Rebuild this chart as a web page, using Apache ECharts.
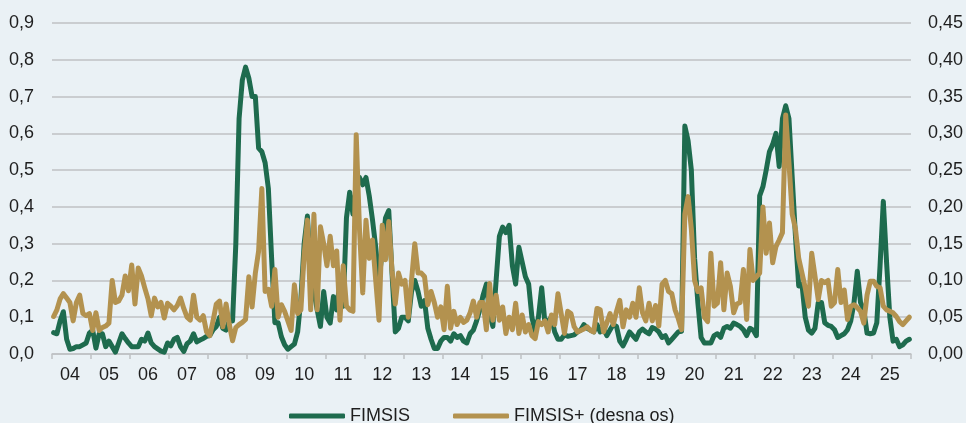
<!DOCTYPE html>
<html>
<head>
<meta charset="utf-8">
<script src="https://cdn.jsdelivr.net/npm/echarts@6/dist/echarts.min.js"></script>
<style>
  html, body { margin: 0; padding: 0; background: #EAF1F5; }
  #chart { width: 966px; height: 423px; }
</style>
</head>
<body>
<div id="chart"></div>
<script>
// Years shown on the x axis (monthly data, Jan 2004 - Dec 2025)
const years = ['04','05','06','07','08','09','10','11','12','13','14','15','16','17','18','19','20','21','22','23','24','25'];
const leftTicks = [0, 0.9, 0.1];    // min, max, interval (FIMSIS)
const rightTicks = [0, 0.45, 0.05]; // min, max, interval (FIMSIS+)

// FIMSIS (left axis), monthly, one row per year
const fimsis = [
  0.058,0.055,0.09,0.115,0.04,0.013,0.015,0.02,0.02,0.025,0.03,0.057,
  0.065,0.016,0.055,0.055,0.02,0.035,0.02,0.005,0.03,0.055,0.042,0.03,
  0.02,0.02,0.02,0.04,0.035,0.057,0.03,0.02,0.014,0.008,0.005,0.03,
  0.022,0.04,0.045,0.02,0.007,0.028,0.035,0.055,0.033,0.038,0.042,0.048,
  0.05,0.066,0.075,0.1,0.07,0.065,0.09,0.09,0.3,0.64,0.745,0.78,
  0.75,0.70,0.70,0.56,0.55,0.52,0.45,0.26,0.085,0.085,0.047,0.025,
  0.013,0.02,0.027,0.06,0.15,0.3,0.375,0.22,0.17,0.12,0.075,0.17,
  0.1,0.084,0.156,0.12,0.2,0.13,0.37,0.44,0.38,0.45,0.48,0.46,
  0.48,0.43,0.365,0.29,0.2,0.28,0.37,0.39,0.22,0.06,0.07,0.1,
  0.1,0.09,0.17,0.2,0.17,0.13,0.145,0.07,0.04,0.015,0.015,0.035,
  0.045,0.045,0.035,0.055,0.045,0.05,0.035,0.03,0.055,0.065,0.09,0.12,
  0.16,0.19,0.11,0.075,0.2,0.32,0.345,0.33,0.35,0.24,0.19,0.29,
  0.25,0.21,0.19,0.1,0.06,0.1,0.18,0.085,0.09,0.1,0.06,0.04,
  0.04,0.052,0.048,0.05,0.052,0.06,0.065,0.08,0.07,0.065,0.06,0.08,
  0.06,0.07,0.05,0.065,0.08,0.075,0.035,0.022,0.04,0.06,0.05,0.04,
  0.06,0.068,0.06,0.055,0.072,0.068,0.06,0.045,0.05,0.03,0.04,0.05,
  0.06,0.062,0.62,0.58,0.5,0.26,0.14,0.045,0.03,0.03,0.03,0.05,
  0.055,0.045,0.07,0.075,0.07,0.084,0.08,0.075,0.066,0.05,0.07,0.065,
  0.05,0.43,0.455,0.5,0.55,0.57,0.6,0.51,0.64,0.675,0.64,0.48,
  0.32,0.185,0.19,0.1,0.065,0.057,0.07,0.14,0.14,0.085,0.078,0.075,
  0.066,0.045,0.05,0.055,0.066,0.09,0.14,0.225,0.14,0.12,0.057,0.055,
  0.057,0.085,0.24,0.415,0.25,0.1,0.035,0.04,0.02,0.025,0.035,0.04
];

// FIMSIS+ (right axis, "desna os"), monthly, one row per year
const fimsisPlus = [
  0.051,0.06,0.075,0.082,0.076,0.07,0.045,0.07,0.08,0.055,0.052,0.055,
  0.032,0.056,0.032,0.036,0.038,0.042,0.1,0.07,0.072,0.08,0.106,0.086,
  0.121,0.068,0.117,0.106,0.09,0.075,0.052,0.076,0.064,0.07,0.049,0.069,
  0.065,0.06,0.066,0.076,0.062,0.05,0.046,0.08,0.05,0.046,0.052,0.03,
  0.025,0.045,0.068,0.072,0.037,0.068,0.04,0.018,0.036,0.04,0.043,0.047,
  0.105,0.064,0.11,0.14,0.225,0.085,0.088,0.065,0.115,0.05,0.067,0.058,
  0.045,0.032,0.094,0.055,0.06,0.135,0.182,0.06,0.19,0.06,0.173,0.15,
  0.12,0.16,0.12,0.14,0.046,0.12,0.065,0.06,0.058,0.298,0.17,0.083,
  0.182,0.13,0.155,0.1,0.046,0.175,0.128,0.18,0.114,0.068,0.11,0.095,
  0.1,0.05,0.1,0.15,0.11,0.11,0.105,0.067,0.085,0.07,0.05,0.064,
  0.033,0.092,0.035,0.058,0.04,0.05,0.043,0.046,0.056,0.072,0.05,0.07,
  0.07,0.033,0.096,0.046,0.08,0.046,0.064,0.028,0.05,0.033,0.069,0.028,
  0.053,0.03,0.04,0.025,0.021,0.044,0.04,0.045,0.03,0.053,0.04,0.082,
  0.055,0.028,0.058,0.055,0.037,0.03,0.032,0.034,0.037,0.032,0.03,0.062,
  0.06,0.03,0.042,0.055,0.04,0.058,0.073,0.037,0.06,0.05,0.069,0.05,
  0.09,0.056,0.045,0.069,0.045,0.066,0.038,0.095,0.1,0.085,0.082,0.06,
  0.048,0.033,0.19,0.214,0.17,0.1,0.085,0.09,0.05,0.044,0.137,0.065,
  0.069,0.124,0.06,0.11,0.092,0.056,0.068,0.07,0.115,0.047,0.142,0.1,
  0.105,0.11,0.2,0.137,0.178,0.124,0.146,0.155,0.165,0.325,0.26,0.19,
  0.17,0.13,0.11,0.09,0.065,0.137,0.106,0.074,0.1,0.097,0.1,0.065,
  0.07,0.115,0.07,0.087,0.047,0.065,0.067,0.063,0.058,0.042,0.08,0.099,
  0.099,0.092,0.09,0.065,0.06,0.058,0.056,0.051,0.044,0.04,0.045,0.05
];

const seriesNames = ['FIMSIS', 'FIMSIS+ (desna os)'];

// monthly categories built from the year list
const categories = [];
years.forEach(y => { for (let m = 1; m <= 12; m++) categories.push(y + '-' + (m < 10 ? '0' + m : m)); });

const FONT = "'Liberation Sans Narrow', 'Arial Narrow', 'Liberation Sans', Arial, sans-serif";
const TXT = '#1e1e1e';
const GRID = '#bfc1c3';

const chart = echarts.init(document.getElementById('chart'), null, { renderer: 'canvas' });
chart.setOption({
  backgroundColor: '#EAF1F5',
  animation: false,
  textStyle: { fontFamily: FONT },
  grid: { left: 52, right: 52, top: 23, bottom: 69, containLabel: false },
  legend: {
    data: seriesNames,
    left: 284, top: 402,
    icon: 'roundRect',
    itemWidth: 56, itemHeight: 5, itemGap: 43,
    textStyle: { fontFamily: FONT, fontSize: 18, color: TXT }
  },
  xAxis: {
    type: 'category',
    data: categories,
    boundaryGap: true,
    axisLine: { show: true, lineStyle: { color: GRID, width: 1.5 } },
    axisTick: { show: true, length: 5, interval: (i) => i % 12 === 0, lineStyle: { color: GRID, width: 1.5 } },
    axisLabel: {
      interval: (i) => i % 12 === 5,
      formatter: (v) => v.slice(0, 2),
      fontFamily: FONT, fontSize: 18, color: TXT, margin: 12
    },
    splitLine: { show: false }
  },
  yAxis: [
    {
      type: 'value', min: leftTicks[0], max: leftTicks[1], interval: leftTicks[2],
      axisLine: { show: false }, axisTick: { show: false },
      axisLabel: { formatter: (v) => v.toFixed(1).replace('.', ','), fontFamily: FONT, fontSize: 18, color: TXT, margin: 18 },
      splitLine: { show: true, lineStyle: { color: GRID, width: 1.5 } }
    },
    {
      type: 'value', min: rightTicks[0], max: rightTicks[1], interval: rightTicks[2],
      axisLine: { show: false }, axisTick: { show: false },
      axisLabel: { formatter: (v) => v.toFixed(2).replace('.', ','), fontFamily: FONT, fontSize: 18, color: TXT, margin: 17 },
      splitLine: { show: false }
    }
  ],
  series: [
    {
      name: seriesNames[0], type: 'line', yAxisIndex: 0, data: fimsis,
      showSymbol: false, symbol: 'none',
      lineStyle: { color: '#1E6B4E', width: 5, join: 'round', cap: 'round' },
      itemStyle: { color: '#1E6B4E' }
    },
    {
      name: seriesNames[1], type: 'line', yAxisIndex: 1, data: fimsisPlus,
      showSymbol: false, symbol: 'none',
      lineStyle: { color: '#B3924F', width: 5, join: 'round', cap: 'round' },
      itemStyle: { color: '#B3924F' }
    }
  ]
});
</script>
</body>
</html>
